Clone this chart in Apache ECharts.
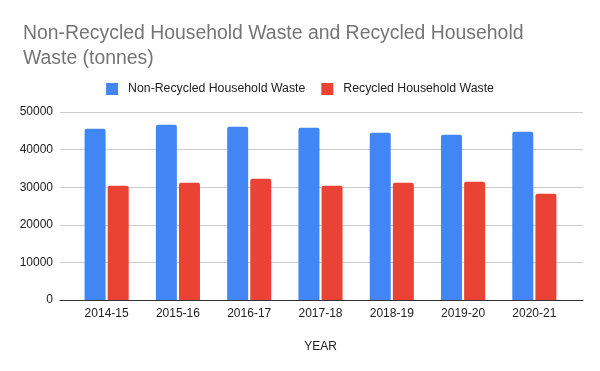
<!DOCTYPE html>
<html><head><meta charset="utf-8">
<script src="https://cdn.jsdelivr.net/npm/echarts@6/dist/echarts.min.js"></script>
<style>html,body{margin:0;padding:0;background:#fff}#c{width:600px;height:371px}</style>
</head><body><div id="c"></div>
<script>
const categories = ['2014-15','2015-16','2016-17','2017-18','2018-19','2019-20','2020-21'];
const nonRecycled = [45560, 46620, 46090, 45830, 44490, 43960, 44760];
const recycled = [30370, 31170, 32240, 30370, 31170, 31440, 28240];
const yTicks = [0, 10000, 20000, 30000, 40000, 50000];
const FONT = 'Liberation Sans, Arial, sans-serif';
const chart = echarts.init(document.getElementById('c'));
chart.setOption({
  animation: false,
  title: {
    text: 'Non-Recycled Household Waste and Recycled Household\nWaste (tonnes)',
    left: 18, top: 16,
    textStyle: {fontFamily: FONT, fontSize: 19.4, fontWeight: 'normal', color: '#757575', lineHeight: 25}
  },
  legend: {
    top: 78, left: 'center',
    itemWidth: 12, itemHeight: 12, itemGap: 16,
    icon: 'rect',
    textStyle: {fontFamily: FONT, fontSize: 12.3, color: '#222', padding: [0, 0, 0, 5]},
    data: ['Non-Recycled Household Waste', 'Recycled Household Waste']
  },
  grid: [
    {left: 60, right: 17, top: 112, bottom: 71},
    {left: 71, right: 30, top: 112, bottom: 71}
  ],
  xAxis: [
    {
      type: 'value', gridIndex: 0, min: 0, max: 1,
      axisLine: {show: true, onZero: false, lineStyle: {color: '#333'}},
      axisTick: {show: false}, axisLabel: {show: false}, splitLine: {show: false}
    },
    {
      type: 'category', gridIndex: 1, data: categories,
      name: 'YEAR', nameLocation: 'middle', nameGap: 41,
      nameTextStyle: {fontFamily: FONT, fontSize: 12, color: '#222'},
      axisLine: {show: false},
      axisTick: {show: false},
      axisLabel: {fontFamily: FONT, fontSize: 12, color: '#222', margin: 8}
    }
  ],
  yAxis: [
    {
      type: 'value', gridIndex: 0, min: yTicks[0], max: yTicks[yTicks.length-1], interval: 10000,
      axisLine: {show: false}, axisTick: {show: false},
      axisLabel: {fontFamily: FONT, fontSize: 12, color: '#222', margin: 7, formatter: v => String(v)},
      splitLine: {lineStyle: {color: '#ccc'}}
    },
    {
      type: 'value', gridIndex: 1, min: yTicks[0], max: yTicks[yTicks.length-1], interval: 10000,
      show: false, splitLine: {show: false}
    }
  ],
  series: [
    {name: 'Non-Recycled Household Waste', type: 'bar', data: nonRecycled, xAxisIndex: 1, yAxisIndex: 1,
     barWidth: 21, barGap: '10%', itemStyle: {color: '#4285f4', borderRadius: [2,2,0,0]}},
    {name: 'Recycled Household Waste', type: 'bar', data: recycled, xAxisIndex: 1, yAxisIndex: 1,
     barWidth: 21, itemStyle: {color: '#ea4335', borderRadius: [2,2,0,0]}}
  ]
});
</script></body></html>
